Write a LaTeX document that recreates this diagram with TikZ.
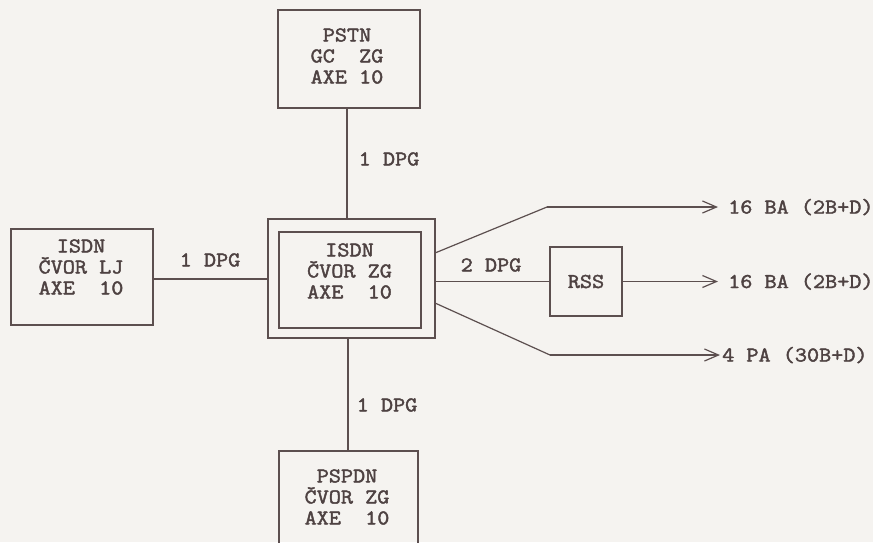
\documentclass[tikz,border=0pt]{standalone}
\usepackage{fontspec}
\usetikzlibrary{arrows.meta}
\newfontfamily\tw[FakeStretch=1.12,FakeBold=2]{Latin Modern Mono}
\definecolor{paper}{HTML}{F5F3F0}
\definecolor{ink}{HTML}{4E4242}
\definecolor{linec}{HTML}{5C4F4F}
\tikzset{
  box/.style={draw=linec, line width=1.2pt, inner sep=0pt, outer sep=0pt},
  lbl/.style={text=ink, inner sep=0pt, font=\tw\fontsize{21}{21}\selectfont},
  multi/.style={lbl, align=center, font=\tw\fontsize{21}{21}\selectfont},
  conn/.style={draw=linec, line width=1.2pt},
  arr/.style={conn, -{Straight Barb[length=14pt,width=12pt,line width=1.2pt]}}
}
\begin{document}
\begin{tikzpicture}[x=1pt,y=-1pt]
\fill[paper] (0,0) rectangle (873,542);
\useasboundingbox (0,0) rectangle (873,542);
\clip (0,0) rectangle (873,542);

% boxes
\node[box, minimum width=142pt, minimum height=98pt] (pstn) at (349,59) {};
\node[box, minimum width=142pt, minimum height=96pt] (lj) at (82,277) {};
\node[box, minimum width=167pt, minimum height=119pt] (isdnzg) at (351.5,278.5) {};
\node[box, minimum width=142pt, minimum height=96pt] (isdnzgin) at (350,280) {};
\node[box, minimum width=139pt, minimum height=130pt] (pspdn) at (348.5,516) {};
\node[box, minimum width=72pt, minimum height=69pt] (rss) at (586,281.5) {};

% box texts
\node[multi] (pstnt) at (347,56) {PSTN\\GC\ \ ZG\\AXE 10};
\node[multi] (ljt) at (81,267) {ISDN\\ČVOR LJ\\AXE\ \ 10};
\node[multi] (zgt) at (349.5,271) {ISDN\\ČVOR ZG\\AXE\ \ 10};
\node[multi] (pspdnt) at (347,497) {PSPDN\\ČVOR ZG\\AXE\ \ 10};
\node[lbl] (rsst) at (rss) {RSS};

% connectors
\draw[conn] (pstn.south -| 347,0) -- (isdnzg.north -| 347,0);
\draw[conn] (isdnzg.south -| 348,0) -- (pspdn.north -| 348,0);
\draw[conn] (lj.east |- 0,279) -- (isdnzg.west |- 0,279);
\draw[conn] (isdnzg.east |- rss.west) -- (rss.west);

\coordinate (k1) at (547,207);
\coordinate (e1) at (718,207);
\coordinate (e2) at (718,281.5);
\coordinate (k3) at (550,355);
\coordinate (e3) at (720,355);

\draw[conn] ([yshift=25.5pt]isdnzg.east) -- (k1);
\draw[arr] (k1) -- (e1);
\draw[arr] (rss.east) -- (e2);
\draw[conn] ([yshift=-24.5pt]isdnzg.east) -- (k3);
\draw[arr] (k3) -- (e3);

% labels
\node[lbl] (dpg1) at (389,159) {1 DPG};
\node[lbl] (dpg2) at (387,405) {1 DPG};
\node[lbl] (dpg3) at (210,260) {1 DPG};
\node[lbl] (dpg4) at (491,265) {2 DPG};
\node[lbl, anchor=base west] (o1) at (728,213.5) {16 BA (2B+D)};
\node[lbl, anchor=base west] (o2) at (728,288) {16 BA (2B+D)};
\node[lbl, anchor=base west] (o3) at (722,361.5) {4 PA (30B+D)};
\end{tikzpicture}
\end{document}
